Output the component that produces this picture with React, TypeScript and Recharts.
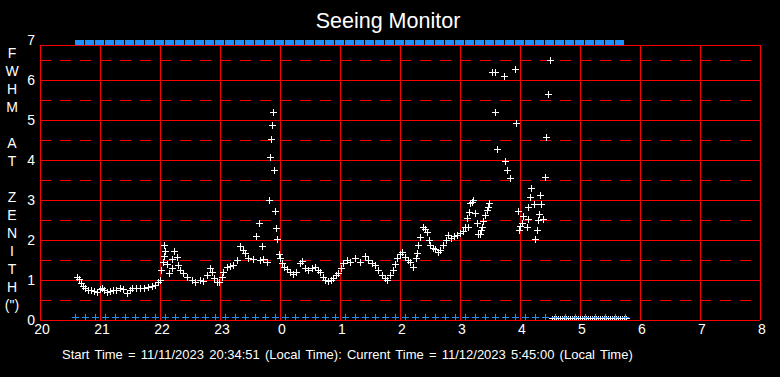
import React from 'react';
import { ScatterChart, Scatter, XAxis, YAxis, ReferenceLine } from 'recharts';

// ---- axis definitions ----
const hourTickMinutes = [0, 60, 120, 180, 240, 300, 360, 420, 480, 540, 600, 660, 720];
const hourTickLabels = ['20', '21', '22', '23', '0', '1', '2', '3', '4', '5', '6', '7', '8'];
const yTicks = [0, 1, 2, 3, 4, 5, 6, 7];
const solidLevels = [1, 2, 3, 4, 5, 6];
const dashedLevels = [0.5, 1.5, 2.5, 3.5, 4.5, 5.5, 6.5];
const frameTop = 6.875;
const yLabelChars = ['F', 'W', 'H', 'M', '', 'A', 'T', '', 'Z', 'E', 'N', 'I', 'T', 'H', '(")'];
const titleText = 'Seeing Monitor';
const footerText = 'Start Time = 11/11/2023 20:34:51 (Local Time): Current Time = 11/12/2023 5:45:00 (Local Time)';

// ---- data: minutes after 20:00 local, FWHM at zenith (arcsec) ----
const seeingMinutes = [
  37, 39, 41, 43, 45, 48, 51, 54, 57, 60, 62, 64, 67, 70, 73, 76, 80, 83, 87, 90, 92, 96, 100, 104, 108, 112, 115, 118, 120,
  121, 123, 124, 124, 125, 127, 129, 132, 132, 134, 137, 138,
  140, 143, 147, 152, 155, 160, 163, 167, 170, 172, 174, 177, 179, 182, 183, 187, 190, 193, 197, 200, 203, 205, 208, 213,
  216, 219, 220, 222, 223, 227, 229, 230, 231, 232, 233, 234, 235, 236, 237, 239, 240,
  242, 244, 247, 250, 253, 256, 260, 262, 265, 268, 272, 275, 278, 280, 283, 285, 288, 291, 293, 296, 298, 301, 303, 307,
  310, 315, 320, 325, 328, 332, 335, 338, 342, 345, 347, 350, 353, 355, 357, 360, 362, 365, 368, 370, 373, 376, 377, 378,
  380, 383, 385, 387, 389, 390, 393, 395, 398, 400, 403, 406, 408, 411, 414, 417, 420, 423, 425, 427, 428, 429, 430, 432,
  433, 435, 437, 438, 440, 441, 442, 443, 445, 447, 448, 449,
  452, 455, 455, 457, 464, 465, 467, 470, 475, 476, 478, 479, 480, 482, 483, 487, 488, 488, 490, 491, 494, 495, 497, 498,
  499, 500, 501, 503, 505, 506, 508, 510,
];
const seeingValues = [
  1.08, 1.02, 0.92, 0.85, 0.8, 0.75, 0.75, 0.72, 0.7, 0.78, 0.8, 0.75, 0.7, 0.72, 0.75, 0.75, 0.8, 0.77, 0.68, 0.75, 0.8, 0.8, 0.8, 0.8, 0.82, 0.85, 0.87, 0.95, 1.0,
  1.25, 1.45, 1.6, 1.87, 1.72, 1.4, 1.17, 1.3, 1.52, 1.72, 1.57, 1.37,
  1.25, 1.17, 1.07, 1.0, 0.95, 1.0, 0.98, 1.12, 1.3, 1.2, 1.05, 0.95, 0.95, 1.07, 1.2, 1.32, 1.35, 1.37, 1.5, 1.85, 1.75, 1.67, 1.55, 1.52,
  2.1, 2.42, 1.5, 1.85, 1.52, 1.45, 3.0, 4.07, 4.52, 4.87, 5.2, 3.75, 2.72, 2.3, 2.02, 1.65, 1.55,
  1.42, 1.32, 1.27, 1.2, 1.15, 1.2, 1.42, 1.47, 1.3, 1.25, 1.3, 1.32, 1.25, 1.2, 1.07, 1.0, 0.98, 1.0, 1.05, 1.12, 1.17, 1.3, 1.42, 1.5,
  1.45, 1.55, 1.45, 1.6, 1.5, 1.42, 1.37, 1.25, 1.12, 1.05, 1.0, 1.12, 1.25, 1.4, 1.55, 1.65, 1.7, 1.57, 1.5, 1.45, 1.32, 1.55, 1.67, 1.87,
  2.07, 2.32, 2.27, 2.2, 2.0, 1.87, 1.8, 1.77, 1.7, 1.75, 1.87, 2.0, 2.12, 2.05, 2.1, 2.12, 2.17, 2.22, 2.32, 2.55, 2.32, 2.7, 2.92, 2.95,
  3.0, 2.67, 2.42, 2.15, 2.15, 2.25, 2.32, 2.47, 2.62, 2.75, 2.82, 2.92,
  6.2, 6.2, 5.2, 4.27, 6.1, 3.97, 3.75, 3.55, 6.27, 4.92, 2.72, 2.25, 2.35, 2.42, 2.6, 2.32, 2.82, 2.52, 3.07, 3.3, 2.9, 2.02, 2.25, 2.5,
  2.65, 3.12, 2.9, 2.52, 3.57, 4.57, 5.65, 6.5,
];
const noDataMinutes = [
  512, 514, 516, 518, 520, 522, 524, 526, 528, 530, 532, 534, 536, 538, 540, 542, 544, 546, 548, 550, 552, 554, 556, 558,
  560, 562, 564, 566, 568, 570, 572, 574, 576, 578, 580, 582, 584, 586,
];
const noDataValue = 0;
const statusBottomMinutes = [
  35, 45, 55, 65, 75, 85, 95, 105, 115, 125, 135, 145, 155, 165, 175, 185, 195, 205, 215, 225, 235, 245, 255, 265, 275, 285,
  295, 305, 315, 325, 335, 345, 355, 365, 375, 385, 395, 405, 415, 425, 435, 445, 455, 465, 475, 485, 495, 505, 515, 525,
  535, 545, 555, 565, 575, 585,
];
const statusTopMinutes = [
  35, 45, 55, 65, 75, 85, 95, 105, 115, 125, 135, 145, 155, 165, 175, 185, 195, 205, 215, 225, 235, 245, 255, 265, 275, 285,
  295, 305, 315, 325, 335, 345, 355, 365, 375, 385, 395, 405, 415, 425, 435, 445, 455, 465, 475, 485, 495, 505, 515, 525,
  535, 545, 555, 565, 575,
];
const statusBottomValue = 0;
const statusTopValue = 7;

const seeingData = seeingMinutes.map((m, i) => ({ x: m, y: seeingValues[i] }));
const noData = noDataMinutes.map((m) => ({ x: m, y: noDataValue }));
const statusBottom = statusBottomMinutes.map((m) => ({ x: m, y: statusBottomValue }));
const statusTop = statusTopMinutes.map((m) => ({ x: m, y: statusTopValue }));

const RED = '#ff0000';
const BLUE = '#1e90ff';
const FONT = '"Liberation Sans", Arial, Helvetica, sans-serif';

const WhiteCross = (p: any) => {
  const x = Math.round(p.cx);
  const y = Math.round(p.cy);
  return (
    <path
      d={`M${x - 3},${y + 0.5}H${x + 4}M${x + 0.5},${y - 3}V${y + 4}`}
      stroke="#ffffff"
      strokeWidth={1}
      fill="none"
    />
  );
};

const WhiteZero = (p: any) => {
  const x = Math.round(p.cx);
  const y = Math.round(p.cy) - 2;
  return (
    <path
      d={`M${x - 3},${y + 0.5}H${x + 4}M${x + 0.5},${y - 2}V${y + 3}`}
      stroke="#ffffff"
      strokeWidth={1}
      fill="none"
    />
  );
};

const BlueCross = (p: any) => {
  const x = Math.round(p.cx);
  const y = Math.round(p.cy) - 3;
  return (
    <path
      d={`M${x - 3},${y + 0.5}H${x + 4}M${x + 0.5},${y - 3}V${y + 4}`}
      stroke={BLUE}
      strokeWidth={1}
      fill="none"
    />
  );
};

const BlueBlock = (p: any) => {
  const x = Math.round(p.cx);
  const y = Math.round(p.cy);
  return <rect x={x} y={y} width={9} height={5} fill={BLUE} />;
};

export default function App() {
  return (
    <div
      style={{
        position: 'fixed',
        left: 0,
        top: 0,
        width: 780,
        height: 377,
        background: '#000',
        fontFamily: FONT,
        overflow: 'hidden',
      }}
    >
      <ScatterChart width={780} height={377} margin={{ top: 40, right: 20, bottom: 0, left: 0 }}>
        <XAxis
          type="number"
          dataKey="x"
          domain={[0, 720]}
          ticks={hourTickMinutes}
          interval={0}
          tickFormatter={(v: number) => hourTickLabels[hourTickMinutes.indexOf(v)]}
          height={57}
          axisLine={false}
          tickLine={false}
          tickSize={0}
          tickMargin={4}
          tick={{ fill: '#ffffff', fontSize: 14, fontFamily: FONT, dx: 2 }}
          allowDataOverflow
        />
        <YAxis
          type="number"
          dataKey="y"
          domain={[0, 7]}
          ticks={yTicks}
          interval={0}
          width={40}
          axisLine={false}
          tickLine={false}
          tickSize={0}
          tickMargin={5}
          tick={{ fill: '#ffffff', fontSize: 14, fontFamily: FONT }}
          allowDataOverflow
        />
        {dashedLevels.map((v) => (
          <ReferenceLine key={'d' + v} y={v} stroke={RED} strokeWidth={1} strokeDasharray="11 9" shapeRendering="crispEdges" />
        ))}
        {solidLevels.map((v) => (
          <ReferenceLine key={'s' + v} y={v} stroke={RED} strokeWidth={1} shapeRendering="crispEdges" />
        ))}
        <ReferenceLine y={frameTop} stroke={RED} strokeWidth={1} shapeRendering="crispEdges" />
        <ReferenceLine y={0} stroke={RED} strokeWidth={1} shapeRendering="crispEdges" />
        {hourTickMinutes.map((m) => (
          <ReferenceLine
            key={'v' + m}
            segment={[
              { x: m, y: 0 },
              { x: m, y: frameTop },
            ]}
            stroke={RED}
            strokeWidth={1}
            shapeRendering="crispEdges"
          />
        ))}
        <Scatter data={seeingData} shape={WhiteCross} isAnimationActive={false} />
        <Scatter data={noData} shape={WhiteZero} isAnimationActive={false} />
        <Scatter data={statusBottom} shape={BlueCross} isAnimationActive={false} />
        <Scatter data={statusTop} shape={BlueBlock} isAnimationActive={false} />
      </ScatterChart>
      <svg
        width={780}
        height={377}
        style={{ position: 'absolute', left: 0, top: 0, pointerEvents: 'none' }}
      >
        <text x={388} y={28} textAnchor="middle" fill="#ffffff" fontSize={21.5} fontFamily={FONT}>
          {titleText}
        </text>
        {yLabelChars.map((c, i) =>
          c ? (
            <text key={'yl' + i} x={12} y={58 + 18 * i} textAnchor="middle" fill="#ffffff" fontSize={14} fontFamily={FONT}>
              {c}
            </text>
          ) : null
        )}
        <text x={62} y={359} fill="#ffffff" fontSize={13} fontFamily={FONT} wordSpacing={1.6}>
          {footerText}
        </text>
      </svg>
    </div>
  );
}
